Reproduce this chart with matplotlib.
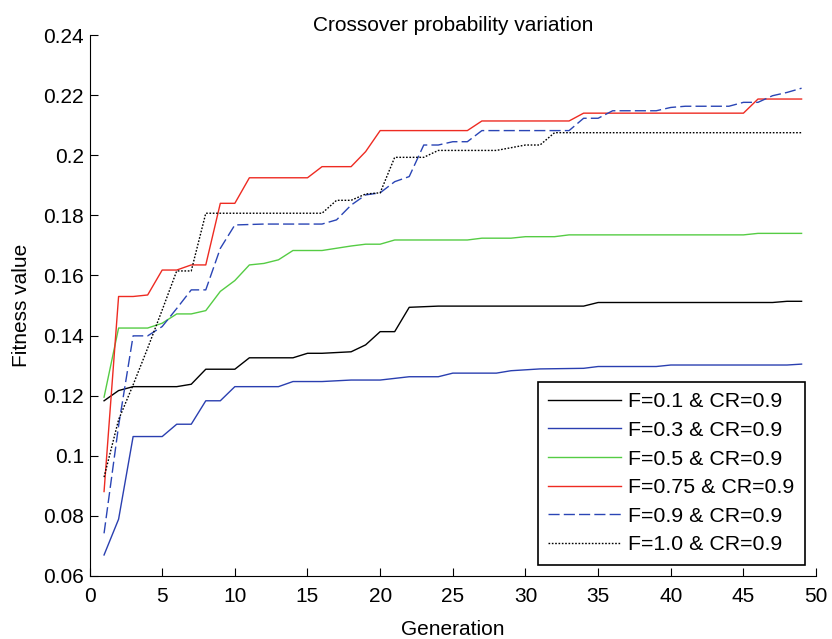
import numpy as np
import matplotlib
matplotlib.use('Agg')
import matplotlib.pyplot as plt

plt.rcParams['font.family'] = ['Liberation Sans', 'DejaVu Sans']

# F=0.1 & CR=0.9
gen_f01 = [1, 2, 3, 6, 7, 8, 10, 11, 14, 15, 16, 18, 19, 20, 21, 22, 24, 34, 35, 47, 48, 49]
fit_f01 = [0.1183, 0.1217, 0.1230, 0.1230, 0.1238, 0.1288, 0.1288, 0.1326, 0.1326, 0.1341, 0.1341,
           0.1346, 0.1369, 0.1413, 0.1413, 0.1494, 0.1498, 0.1498, 0.1510, 0.1510, 0.1514, 0.1514]

# F=0.3 & CR=0.9
gen_f03 = [1, 2, 3, 5, 6, 7, 8, 9, 10, 13, 14, 16, 18, 20, 22, 24, 25, 28, 29, 31, 34, 35, 39, 40, 48, 49]
fit_f03 = [0.0670, 0.0789, 0.1064, 0.1064, 0.1105, 0.1105, 0.1183, 0.1183, 0.1230, 0.1230, 0.1247,
           0.1247, 0.1252, 0.1252, 0.1263, 0.1263, 0.1275, 0.1275, 0.1283, 0.1289, 0.1291, 0.1297,
           0.1297, 0.1302, 0.1302, 0.1305]

# F=0.5 & CR=0.9
gen_f05 = [1, 2, 4, 5, 6, 7, 8, 9, 10, 11, 12, 13, 14, 16, 18, 19, 20, 21, 26, 27, 29, 30, 32, 33, 45, 46, 49]
fit_f05 = [0.1195, 0.1425, 0.1425, 0.1441, 0.1472, 0.1472, 0.1483, 0.1547, 0.1583, 0.1635, 0.1640,
           0.1652, 0.1683, 0.1683, 0.1698, 0.1704, 0.1704, 0.1718, 0.1718, 0.1724, 0.1724, 0.1729,
           0.1729, 0.1735, 0.1735, 0.1740, 0.1740]

# F=0.75 & CR=0.9
gen_f075 = [1, 2, 3, 4, 5, 6, 7, 8, 9, 10, 11, 15, 16, 18, 19, 20, 26, 27, 33, 34, 45, 46, 49]
fit_f075 = [0.0881, 0.1530, 0.1530, 0.1535, 0.1618, 0.1618, 0.1635, 0.1635, 0.1840, 0.1840, 0.1925,
            0.1925, 0.1962, 0.1962, 0.2012, 0.2082, 0.2082, 0.2114, 0.2114, 0.2140, 0.2140, 0.2187, 0.2187]

# F=0.9 & CR=0.9
gen_f09 = [1, 2, 3, 4, 5, 6, 7, 8, 9, 10, 12, 16, 17, 18, 19, 20, 21, 22, 23, 24, 25, 26, 27, 33,
           34, 35, 36, 39, 40, 41, 44, 45, 46, 47, 48, 49]
fit_f09 = [0.0742, 0.1100, 0.1399, 0.1399, 0.1430, 0.1490, 0.1552, 0.1552, 0.1690, 0.1768, 0.1771,
           0.1771, 0.1785, 0.1834, 0.1868, 0.1875, 0.1912, 0.1929, 0.2034, 0.2034, 0.2045, 0.2045,
           0.2082, 0.2082, 0.2123, 0.2123, 0.2148, 0.2148, 0.2159, 0.2163, 0.2163, 0.2176, 0.2176,
           0.2198, 0.2209, 0.2223]

# F=1.0 & CR=0.9
gen_f10 = [1, 2, 3, 4, 5, 6, 7, 8, 16, 17, 18, 19, 20, 21, 23, 24, 28, 29, 30, 31, 32, 49]
fit_f10 = [0.0929, 0.1120, 0.1236, 0.1358, 0.1485, 0.1615, 0.1615, 0.1807, 0.1807, 0.1850, 0.1850,
           0.1871, 0.1875, 0.1993, 0.1993, 0.2016, 0.2016, 0.2025, 0.2034, 0.2034, 0.2075, 0.2075]

labels = ['F=0.1 & CR=0.9', 'F=0.3 & CR=0.9', 'F=0.5 & CR=0.9',
          'F=0.75 & CR=0.9', 'F=0.9 & CR=0.9', 'F=1.0 & CR=0.9']

fig = plt.figure(figsize=(8.32, 6.39), dpi=100)
ax = fig.add_axes([0.1076, 0.0986, 0.8733, 0.8466])

ax.plot(gen_f01, fit_f01, color='black', lw=1.0, label=labels[0])
ax.plot(gen_f03, fit_f03, color='#2a3fb0', lw=1.0, label=labels[1])
ax.plot(gen_f05, fit_f05, color='#55cc44', lw=1.0, label=labels[2])
ax.plot(gen_f075, fit_f075, color='#ee2b22', lw=1.0, label=labels[3])
ax.plot(gen_f09, fit_f09, color='#2a45b5', lw=1.0, ls=(0, (8, 3)), label=labels[4])
ax.plot(gen_f10, fit_f10, color='black', lw=1.0, ls=(0, (1.2, 1.2)), label=labels[5])

ax.set_xlim(0, 50)
ax.set_ylim(0.06, 0.24)
ax.set_xticks(np.arange(0, 51, 5))
ax.set_yticks(np.arange(0.06, 0.2401, 0.02))
ax.set_yticklabels(['%g' % round(v, 2) for v in np.arange(0.06, 0.2401, 0.02)])
ax.tick_params(direction='in', length=6, width=0.8, labelsize=15)
ax.tick_params(axis='x', pad=8)
ax.tick_params(axis='y', pad=4)
ax.spines['top'].set_visible(False)
ax.spines['right'].set_visible(False)
ax.spines['left'].set_linewidth(0.8)
ax.spines['bottom'].set_linewidth(0.8)

ax.set_title('Crossover probability variation', fontsize=15, pad=1)
ax.set_xlabel('Generation', fontsize=15, labelpad=10)
ax.set_ylabel('Fitness value', fontsize=15, labelpad=9)

leg = ax.legend(loc='lower right', bbox_to_anchor=(0.985, 0.02), borderaxespad=0,
                fontsize=15.4, handlelength=3.4, handletextpad=0.33, labelspacing=0.45,
                borderpad=0.5, fancybox=False, framealpha=1, edgecolor='black')
leg.get_frame().set_linewidth(1.2)

plt.savefig('out.png', dpi=100)
